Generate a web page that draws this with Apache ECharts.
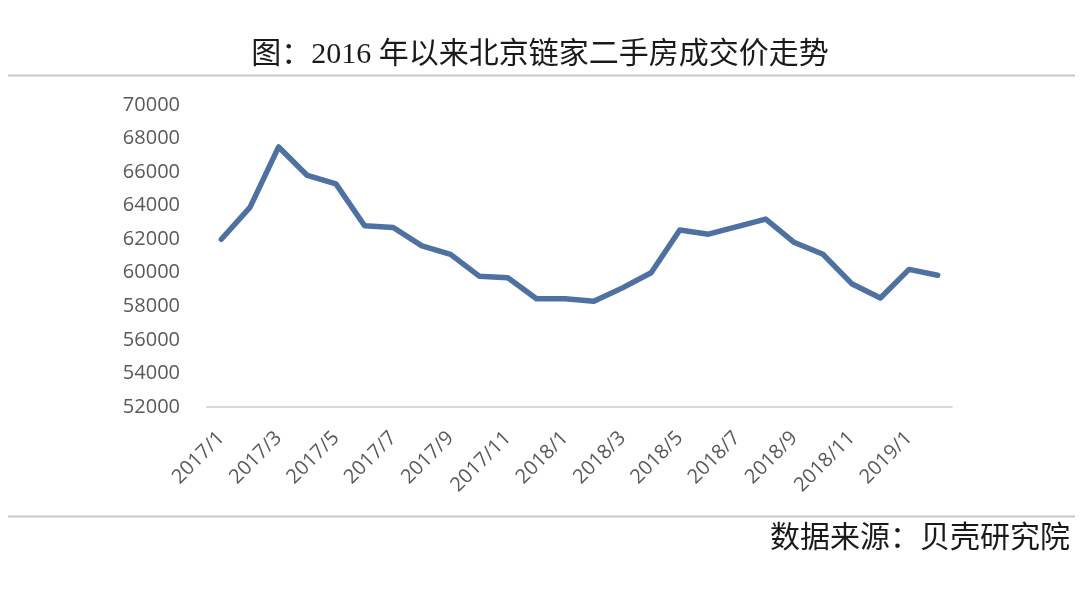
<!DOCTYPE html>
<html>
<head>
<meta charset="utf-8">
<script src="https://cdn.jsdelivr.net/npm/echarts@6/dist/echarts.min.js"></script>
<style>
html,body{margin:0;padding:0;background:#fff;}
#chart{width:1080px;height:590px;}
</style>
</head>
<body>
<div id="chart"></div>
<script>
const titleText = '图：2016 年以来北京链家二手房成交价走势';
const sourceText = '数据来源：贝壳研究院';
const categories = ['2017/1','2017/2','2017/3','2017/4','2017/5','2017/6','2017/7','2017/8','2017/9','2017/10','2017/11','2017/12',
  '2018/1','2018/2','2018/3','2018/4','2018/5','2018/6','2018/7','2018/8','2018/9','2018/10','2018/11','2018/12',
  '2019/1','2019/2'];
const prices = [62000, 63900, 67500, 65800, 65300, 62800, 62700, 61600, 61100, 59800, 59700, 58450,
  58450, 58300, 59100, 60000, 62550, 62300, 62750, 63200, 61800, 61100, 59350, 58500,
  60200, 59850];
const yMin = 52000, yMax = 70000, yStep = 2000;

const chart = echarts.init(document.getElementById('chart'));
const serifCJK = '"Liberation Serif", "Noto Sans CJK SC", serif';
chart.setOption({
  animation: false,
  backgroundColor: '#ffffff',
  title: {
    text: titleText,
    left: 'center',
    top: 35,
    textStyle: { fontFamily: serifCJK, fontSize: 30, fontWeight: 'normal', color: '#1a1a1a' }
  },
  graphic: [
    { type: 'line', shape: { x1: 8, y1: 75.5, x2: 1075, y2: 75.5 }, style: { stroke: '#c8c8c8', lineWidth: 2 } },
    { type: 'line', shape: { x1: 8, y1: 516.5, x2: 1075, y2: 516.5 }, style: { stroke: '#c8c8c8', lineWidth: 2 } },
    { type: 'text', right: 10, top: 524, style: { text: sourceText, font: 'normal 30px ' + serifCJK, fill: '#1a1a1a' } }
  ],
  grid: { left: 207, right: 128, top: 105, bottom: 183 },
  xAxis: {
    type: 'category',
    data: categories,
    boundaryGap: true,
    axisLine: { lineStyle: { color: '#d9d9d9', width: 2 } },
    axisTick: { show: false },
    axisLabel: { interval: 1, rotate: 45, margin: 28, color: '#595959', fontSize: 20, fontFamily: '"Open Sans", sans-serif' }
  },
  yAxis: {
    type: 'value',
    min: yMin, max: yMax, interval: yStep,
    axisLine: { show: false },
    axisTick: { show: false },
    splitLine: { show: false },
    axisLabel: { margin: 27, color: '#595959', fontSize: 20, fontFamily: '"Open Sans", sans-serif', formatter: function (v) { return String(v); } }
  },
  series: [{
    type: 'line',
    data: prices,
    symbol: 'none',
    lineStyle: { color: '#4e71a1', width: 5.5, cap: 'round', join: 'round' }
  }]
});
</script>
</body>
</html>
